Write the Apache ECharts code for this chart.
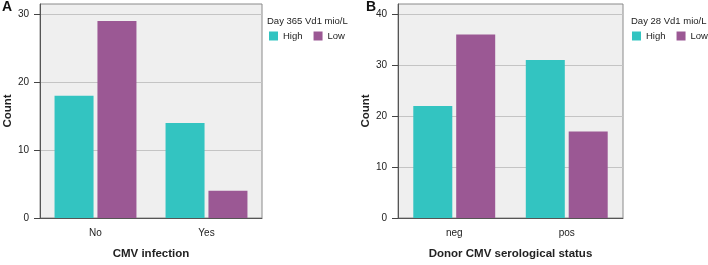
<!DOCTYPE html>
<html>
<head>
<meta charset="utf-8">
<script src="https://cdn.jsdelivr.net/npm/echarts@6/dist/echarts.min.js"></script>
<style>
  html, body { margin: 0; padding: 0; background: #fff; }
  #chart { width: 708px; height: 265px; }
</style>
</head>
<body>
<div id="chart"></div>
<script>
// panel A: CMV infection vs Day 365 Vd1
const catsA = ['No', 'Yes']
const highA = [18, 14]
const lowA = [29, 4]
const ticksA = [0, 10, 20, 30]

// panel B: donor CMV serostatus vs Day 28 Vd1
const catsB = ['neg', 'pos']
const highB = [22, 31]
const lowB = [36, 17]
const ticksB = [0, 10, 20, 30, 40]

const teal = '#33c4c1'
const purple = '#9b5894'
const font = 'Liberation Sans, Arial, sans-serif'

function xAxis(gridIndex, cats, name) {
  return {
    type: 'category',
    gridIndex,
    data: cats,
    name,
    nameLocation: 'middle',
    nameGap: 30,
    nameTextStyle: { fontFamily: font, fontWeight: 'bold', fontSize: 11.5, color: '#222' },
    axisLine: { lineStyle: { color: '#555' } },
    axisTick: { alignWithLabel: true, length: 5, lineStyle: { color: '#555' } },
    axisLabel: { fontFamily: font, fontSize: 10, color: '#222', margin: 10 },
  }
}

function yAxis(gridIndex, max, ticks, gap) {
  return {
    type: 'value',
    gridIndex,
    min: 0,
    max,
    interval: 10,
    name: 'Count',
    nameLocation: 'middle',
    nameGap: gap,
    nameTextStyle: { fontFamily: font, fontWeight: 'bold', fontSize: 11.5, color: '#222' },
    axisLine: { show: true, onZero: false, lineStyle: { color: '#555' } },
    axisTick: { show: true, inside: false, length: 6, customValues: ticks, lineStyle: { color: '#444', width: 1 } },
    axisLabel: {
      fontFamily: font, fontSize: 10, color: '#222', margin: 11,
      formatter: (v) => (ticks.includes(v) ? String(v) : ''),
    },
    splitLine: { show: true, lineStyle: { color: '#c4c4c4', width: 1 } },
  }
}

function bars(name, data, color, idx) {
  return {
    name,
    type: 'bar',
    xAxisIndex: idx,
    yAxisIndex: idx,
    data,
    barWidth: 39,
    barGap: '10%',
    itemStyle: { color },
    emphasis: { disabled: true },
  }
}

const legendBase = {
  icon: 'rect',
  padding: 0,
  width: 120,
  itemWidth: 9,
  itemHeight: 9,
  itemGap: 11,
  data: ['High', 'Low'],
  textStyle: { fontFamily: font, fontSize: 9.5, color: '#222' },
}

const titleStyle = { fontFamily: font, fontSize: 9.5, fontWeight: 'normal', color: '#222' }
const letterStyle = { fontFamily: font, fontSize: 14, fontWeight: 'bold', color: '#111' }

const chart = echarts.init(document.getElementById('chart'))
chart.setOption({
  animation: false,
  title: [
    { text: 'A', left: 2, top: 0, padding: 0, textStyle: letterStyle },
    { text: 'B', left: 366, top: 0, padding: 0, textStyle: letterStyle },
    { text: 'Day 365 Vd1 mio/L', left: 267, top: 16, padding: 0, textStyle: titleStyle },
    { text: 'Day 28 Vd1 mio/L', left: 631, top: 16, padding: 0, textStyle: titleStyle },
  ],
  legend: [
    Object.assign({ left: 269, top: 31 }, legendBase),
    Object.assign({ left: 632, top: 31 }, legendBase),
  ],
  grid: [
    { left: 40, top: 4, width: 222, height: 219, show: true, backgroundColor: '#efefef', borderColor: '#8a8a8a', borderWidth: 1 },
    { left: 398, top: 4, width: 225, height: 219, show: true, backgroundColor: '#efefef', borderColor: '#8a8a8a', borderWidth: 1 },
  ],
  xAxis: [xAxis(0, catsA, 'CMV infection'), xAxis(1, catsB, 'Donor CMV serological status')],
  yAxis: [yAxis(0, 31.5, ticksA, 26), yAxis(1, 42, ticksB, 25)],
  series: [
    bars('High', highA, teal, 0),
    bars('Low', lowA, purple, 0),
    bars('High', highB, teal, 1),
    bars('Low', lowB, purple, 1),
  ],
})
</script>
</body>
</html>
